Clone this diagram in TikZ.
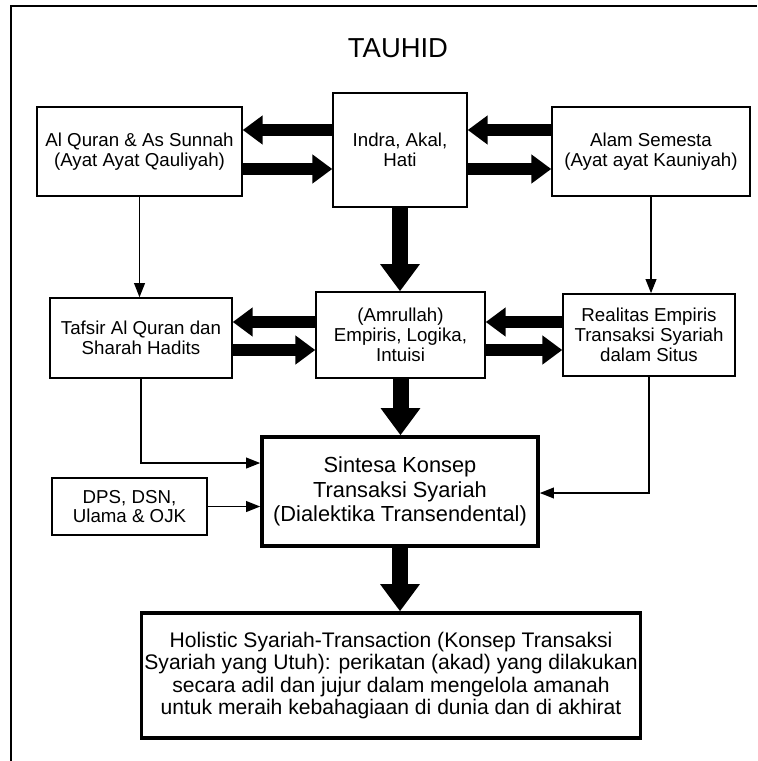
\documentclass[tikz,border=0pt]{standalone}
\usepackage{fontspec}
\setmainfont{Liberation Sans}
\usetikzlibrary{arrows.meta}

\begin{document}
\begin{tikzpicture}[x=0.025cm, y=-0.025cm,
        kotak/.style={draw, line width=1pt, align=center, inner sep=2pt,
            font=\fontsize{13.3}{14}\selectfont},
        kotaktebal/.style={kotak, line width=2.4pt},
        panahbesar/.style={line width=0.28cm, -{Triangle[width=0.7cm, length=0.5cm]}},
        panahturun/.style={line width=0.4cm, -{Triangle[width=0.95cm, length=0.68cm]}},
        panah/.style={line width=1.4pt, -{Triangle[width=7.5pt, length=10pt]}}]
    \useasboundingbox (0,0) rectangle (757,761);
    % Bingkai dan judul
    \draw[line width=1.4pt] (11,761) -- (11,6) -- (757,6);
    \node[font=\fontsize{19.5}{22}\selectfont] (judul) at (398,48) {TAUHID};

    % Baris 1
    \node[kotak, minimum width=5.125cm, minimum height=2.225cm] (quran) at (139.5,151.5)
        {Al Quran \& As Sunnah\\(Ayat Ayat Qauliyah)};
    \node[kotak, minimum width=3.35cm, minimum height=2.85cm] (indra) at (400,150)
        {Indra, Akal,\\Hati};
    \node[kotak, minimum width=4.95cm, minimum height=2.225cm] (alam) at (651,151.5)
        {Alam Semesta\\(Ayat ayat Kauniyah)};

    % Baris 2
    \node[kotak, minimum width=4.55cm, minimum height=2cm] (tafsir) at (141,338)
        {Tafsir Al Quran dan\\Sharah Hadits};
    \node[kotak, minimum width=4.225cm, minimum height=2.15cm] (amrullah) at (400.5,335)
        {(Amrullah)\\Empiris, Logika,\\Intuisi};
    \node[kotak, minimum width=4.3cm, minimum height=2.05cm] (realitas) at (649,335)
        {Realitas Empiris\\Transaksi Syariah\\dalam Situs};

    % Baris 3 dan 4
    \node[kotak, minimum width=3.875cm, minimum height=1.425cm] (dps) at (129.5,506.5)
        {DPS, DSN,\\Ulama \& OJK};
    \node[kotaktebal, minimum width=6.9cm, minimum height=2.725cm,
        font=\fontsize{15.5}{17.5}\selectfont] (sintesa) at (400,491.5)
        {Sintesa Konsep\\Transaksi Syariah\\(Dialektika Transendental)};
    \node[kotaktebal, minimum width=12.45cm, minimum height=3.125cm,
        font=\fontsize{15}{16}\selectfont] (holistik) at (391,675.5)
        {Holistic Syariah-Transaction (Konsep Transaksi\\Syariah yang Utuh): perikatan (akad) yang dilakukan\\
         secara adil dan jujur dalam mengelola amanah\\untuk meraih kebahagiaan di dunia dan di akhirat};

    % Panah tebal dua arah
    \foreach \kiri/\kanan/\ya/\yb in {quran/indra/130/169, indra/alam/130/169,
            tafsir/amrullah/322/350, amrullah/realitas/322/350} {
        \draw[panahbesar] (\kanan.west |- 0,\ya) -- (\kiri.east |- 0,\ya);
        \draw[panahbesar] (\kiri.east |- 0,\yb) -- (\kanan.west |- 0,\yb);
    }
    \draw[panahturun] (indra.south) -- (indra.south |- amrullah.north);
    \draw[panahturun] (amrullah.south) -- (amrullah.south |- sintesa.north);
    \draw[panahturun] (sintesa.south) -- (sintesa.south |- holistik.north);

    % Panah tipis
    \draw[panah] (quran.south) -- (quran.south |- tafsir.north);
    \draw[panah] (alam.south) -- (alam.south |- realitas.north);
    \draw[panah] (tafsir.south) |- (sintesa.west |- 0,463);
    \draw[panah] (realitas.south) |- (sintesa.east |- 0,493);
    \draw[panah] (dps.east) -- (dps.east -| sintesa.west);
\end{tikzpicture}
\end{document}
